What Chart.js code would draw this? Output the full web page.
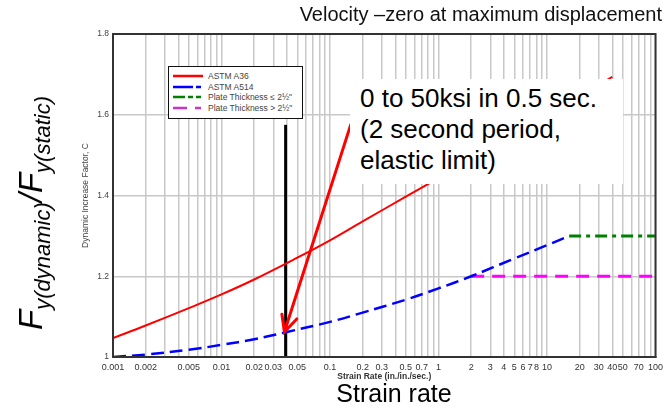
<!DOCTYPE html>
<html>
<head>
<meta charset="utf-8">
<script src="https://cdn.jsdelivr.net/npm/chart.js@4/dist/chart.umd.min.js"></script>
<style>
  body { margin: 0; background: #fff; font-family: Arial, "Liberation Sans", sans-serif; }
  #wrap { position: relative; width: 668px; height: 407px; overflow: hidden; }
  #title { position: absolute; right: 6px; top: 3px; font-size: 20px; color: #111; white-space: nowrap; }
  #ylab { position: absolute; left: 34px; top: 213px; transform: translate(-50%, -50%) rotate(-90deg);
          font-size: 33px; font-style: italic; white-space: nowrap; color: #000; }
  #ylab sub { font-size: 22px; vertical-align: -8px; }
  #xlab { position: absolute; left: 394px; top: 379px; transform: translateX(-50%); font-size: 25px; color: #000; white-space: nowrap; }
  #note { position: absolute; left: 350px; top: 79px; width: 273px; height: 105px; background: #fff;
          font-size: 26px; line-height: 31px; color: #000; padding: 4px 0 0 10px; box-sizing: border-box; }
  #legend { position: absolute; left: 168px; top: 66px; width: 135px; height: 53px; background: #fff;
            border: 1.5px solid #111; box-sizing: border-box; font-size: 8.5px; color: #444; padding-top: 4px; }
  #legend div { height: 10.5px; display: flex; align-items: center; }
  #legend svg { margin: 0 5px 0 4px; }
</style>
</head>
<body>
<div id="wrap">
  <canvas id="difChart" width="668" height="407"></canvas>
  <div id="title">Velocity –zero at maximum displacement</div>
  <div id="ylab">F<sub>y(dynamic)</sub>/F<sub>y(static)</sub></div>
  <div id="xlab">Strain rate</div>
  <div id="legend"></div>
  <div id="note">0 to 50ksi in 0.5 sec.<br>(2 second period,<br>elastic limit)</div>
</div>
<script>
// strain rate (in./in./sec.) vs dynamic increase factor
const a36Rate = [0.001, 0.002, 0.005, 0.01, 0.02, 0.05, 0.1, 0.2, 0.5, 1, 2, 5, 10, 20, 40];
const a36Dif = [1.047, 1.078, 1.121, 1.155, 1.192, 1.246, 1.289, 1.336, 1.397, 1.443, 1.49, 1.553, 1.6, 1.647, 1.694];

const a514Rate = [0.001, 0.002, 0.005, 0.01, 0.02, 0.04, 0.1, 0.2, 0.5, 1, 2, 5, 10, 16];
const a514Dif = [1.0, 1.006, 1.018, 1.03, 1.044, 1.062, 1.087, 1.11, 1.142, 1.17, 1.2, 1.244, 1.277, 1.30];

const thinRate = [16, 100];
const thinDif = [1.30, 1.30];
const thickRate = [2, 100];
const thickDif = [1.20, 1.20];

// vertical marker and arrow (rate, dif)
const markerRate = [0.039, 0.039];
const markerDif = [1.0, 1.575];
const arrowRate = [0.155, 0.038];
const arrowDif = [1.575, 1.062];

const xTickLabels = [0.001, 0.002, 0.005, 0.01, 0.02, 0.03, 0.05, 0.1, 0.2, 0.3, 0.5, 0.7,
  1, 2, 3, 4, 5, 6, 7, 8, 10, 20, 30, 40, 50, 70, 100];
const yTicks = [1, 1.2, 1.4, 1.6, 1.8];

const legendItems = [
  { label: 'ASTM A36', color: '#ff0000', dash: '' },
  { label: 'ASTM A514', color: '#0000ff', dash: '20 3 5 20' },
  { label: 'Plate Thickness \u2264 2\u00bd"', color: '#008000', dash: '12 3 5 3 5 20' },
  { label: 'Plate Thickness > 2\u00bd"', color: '#cc33cc', dash: '14 8 6 20' }
];

function pts(xs, ys) {
  return xs.map((x, i) => ({ x: x, y: ys[i] }));
}

// grid lines at 1..9 in every decade
const gridValues = [];
for (let e = -3; e <= 2; e++) {
  for (let m = 1; m <= 9; m++) {
    const v = +(m * Math.pow(10, e)).toPrecision(6);
    if (v <= 100) gridValues.push(v);
  }
}

const legendBox = document.getElementById('legend');
legendItems.forEach(item => {
  const row = document.createElement('div');
  row.innerHTML = '<svg width="30" height="6"><line x1="0" y1="3" x2="30" y2="3" stroke="' + item.color +
    '" stroke-width="2.5" stroke-dasharray="' + item.dash + '"/></svg><span>' + item.label + '</span>';
  legendBox.appendChild(row);
});

const frame = {
  id: 'frame',
  afterDatasetsDraw(chart) {
    const { ctx, chartArea, scales } = chart;
    ctx.save();
    ctx.strokeStyle = '#333';
    ctx.lineWidth = 2;
    ctx.strokeRect(chartArea.left, chartArea.top, chartArea.right - chartArea.left, chartArea.bottom - chartArea.top);

    // red arrow
    const x0 = scales.x.getPixelForValue(arrowRate[0]);
    const y0 = scales.y.getPixelForValue(arrowDif[0]);
    const x1 = scales.x.getPixelForValue(arrowRate[1]);
    const y1 = scales.y.getPixelForValue(arrowDif[1]);
    const ang = Math.atan2(y1 - y0, x1 - x0);
    ctx.strokeStyle = '#ff0000';
    ctx.lineWidth = 3;
    ctx.lineCap = 'round';
    ctx.beginPath();
    ctx.moveTo(x0, y0);
    ctx.lineTo(x1, y1);
    ctx.moveTo(x1 - 18 * Math.cos(ang - 0.45), y1 - 18 * Math.sin(ang - 0.45));
    ctx.lineTo(x1, y1);
    ctx.lineTo(x1 - 18 * Math.cos(ang + 0.45), y1 - 18 * Math.sin(ang + 0.45));
    ctx.stroke();
    ctx.restore();
  }
};

new Chart(document.getElementById('difChart'), {
  type: 'line',
  data: {
    datasets: [
      { label: 'ASTM A36', data: pts(a36Rate, a36Dif), borderColor: '#ff0000', borderWidth: 2, tension: 0.4 },
      { label: 'ASTM A514', data: pts(a514Rate, a514Dif), borderColor: '#0000ff', borderWidth: 2.5, borderDash: [13, 6], tension: 0.4 },
      { label: 'Plate Thickness \u2264 2\u00bd"', data: pts(thinRate, thinDif), borderColor: '#008000', borderWidth: 3, borderDash: [12, 5, 4, 5] },
      { label: 'Plate Thickness > 2\u00bd"', data: pts(thickRate, thickDif), borderColor: '#ff00ff', borderWidth: 3, borderDash: [13, 8] },
      { label: 'marker', data: pts(markerRate, markerDif), borderColor: '#000', borderWidth: 3, clip: false }
    ]
  },
  options: {
    responsive: false,
    animation: false,
    layout: { autoPadding: false, padding: { left: 81, right: 5, top: 34, bottom: 25 } },
    elements: { point: { radius: 0 } },
    plugins: { legend: { display: false }, tooltip: { enabled: false } },
    scales: {
      x: {
        type: 'logarithmic',
        min: 0.001,
        max: 100,
        afterFit(scale) { scale.height = 25; },
        afterBuildTicks(scale) { scale.ticks = gridValues.map(v => ({ value: v })); },
        grid: { color: '#c8c8c8', lineWidth: 1.5, drawTicks: false },
        border: { color: '#333', width: 2 },
        ticks: {
          autoSkip: false,
          maxRotation: 0,
          padding: 5,
          color: '#333',
          font: { family: 'Arial', size: 9 },
          callback: v => xTickLabels.includes(v) ? String(v) : ''
        },
        title: { display: true, text: 'Strain Rate (in./in./sec.)', color: '#333', padding: 0,
                 font: { family: 'Arial', size: 8.5, weight: 'bold' } }
      },
      y: {
        min: 1,
        max: 1.8,
        afterFit(scale) { scale.width = 32; },
        afterBuildTicks(scale) { scale.ticks = yTicks.map(v => ({ value: v })); },
        grid: { color: '#c8c8c8', lineWidth: 1.5, drawTicks: false },
        border: { color: '#333', width: 2 },
        ticks: { padding: 4, color: '#444', font: { family: 'Arial', size: 8.5 }, callback: v => String(v) },
        title: { display: true, text: 'Dynamic Increase Factor, C', color: '#444', padding: 0,
                 font: { family: 'Arial', size: 8.5 } }
      }
    }
  },
  plugins: [frame]
});
</script>
</body>
</html>
